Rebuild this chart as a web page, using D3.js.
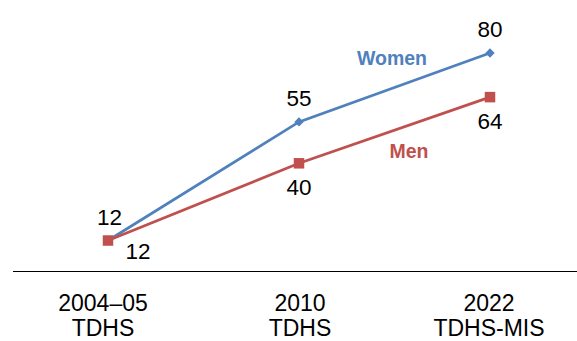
<!DOCTYPE html>
<html>
<head>
<meta charset="utf-8">
<script src="https://cdn.jsdelivr.net/npm/d3@7"></script>
<style>
body { margin: 0; background: #fff; }
text { font-family: "Liberation Sans", Arial, sans-serif; }
</style>
</head>
<body>
<script>
var categories = ["2004\u201305|TDHS", "2010|TDHS", "2022|TDHS-MIS"];
var women = [12, 55, 80];
var men = [12, 40, 64];

var width = 577, height = 341;

var x = d3.scalePoint()
	.domain(categories)
	.range([108, 490]);

var y = d3.scaleLinear()
	.domain([0, 80])
	.range([273.6, 53]);

var svg = d3.select("body").append("svg")
	.attr("width", width)
	.attr("height", height);

// baseline
svg.append("line")
	.attr("x1", 13).attr("x2", 577)
	.attr("y1", 271.5).attr("y2", 271.5)
	.attr("stroke", "#000").attr("stroke-width", 1);

// category labels
var catDx = [-5, 1, -1];
var cat = svg.append("g").selectAll("text")
	.data(categories)
	.enter().append("text")
	.attr("text-anchor", "middle")
	.attr("font-size", 23)
	.attr("fill", "#000");
cat.append("tspan").attr("x", (d, i) => x(d) + catDx[i]).attr("y", 311).text(d => d.split("|")[0]);
cat.append("tspan").attr("x", (d, i) => x(d) + catDx[i]).attr("y", 336).text(d => d.split("|")[1]);

var line = d3.line()
	.x((d, i) => x(categories[i]))
	.y(d => y(d));

var blue = "#4F81BD", red = "#C0504D";

svg.append("path")
	.datum(women)
	.attr("fill", "none")
	.attr("stroke", blue)
	.attr("stroke-width", 2.7)
	.attr("d", line);

svg.selectAll(".wpt")
	.data(women)
	.enter().append("rect")
	.attr("class", "wpt")
	.attr("x", -3.3).attr("y", -3.3)
	.attr("width", 6.6).attr("height", 6.6)
	.attr("fill", blue)
	.attr("transform", (d, i) => "translate(" + x(categories[i]) + "," + y(d) + ") rotate(45)");

svg.append("path")
	.datum(men)
	.attr("fill", "none")
	.attr("stroke", red)
	.attr("stroke-width", 2.7)
	.attr("d", line);

svg.selectAll(".mpt")
	.data(men)
	.enter().append("rect")
	.attr("class", "mpt")
	.attr("x", (d, i) => x(categories[i]) - 5.25)
	.attr("y", d => y(d) - 5.25)
	.attr("width", 10.5).attr("height", 10.5)
	.attr("fill", red);

// value labels
var wOff = [[1.5, -15.5], [0, -16], [0, -16]];
var mOff = [[30, 18], [0, 32], [0, 32]];

svg.selectAll(".wlab")
	.data(women)
	.enter().append("text")
	.attr("class", "wlab")
	.attr("text-anchor", "middle")
	.attr("font-size", 22.5)
	.attr("x", (d, i) => x(categories[i]) + wOff[i][0])
	.attr("y", (d, i) => y(d) + wOff[i][1])
	.text(d => d);

svg.selectAll(".mlab")
	.data(men)
	.enter().append("text")
	.attr("class", "mlab")
	.attr("text-anchor", "middle")
	.attr("font-size", 22.5)
	.attr("x", (d, i) => x(categories[i]) + mOff[i][0])
	.attr("y", (d, i) => y(d) + mOff[i][1])
	.text(d => d);

// series names
svg.append("text")
	.attr("x", 392).attr("y", 65)
	.attr("text-anchor", "middle")
	.attr("font-size", 19.5).attr("font-weight", "bold")
	.attr("fill", blue)
	.text("Women");

svg.append("text")
	.attr("x", 409).attr("y", 158)
	.attr("text-anchor", "middle")
	.attr("font-size", 19.5).attr("font-weight", "bold")
	.attr("fill", red)
	.text("Men");
</script>
</body>
</html>
